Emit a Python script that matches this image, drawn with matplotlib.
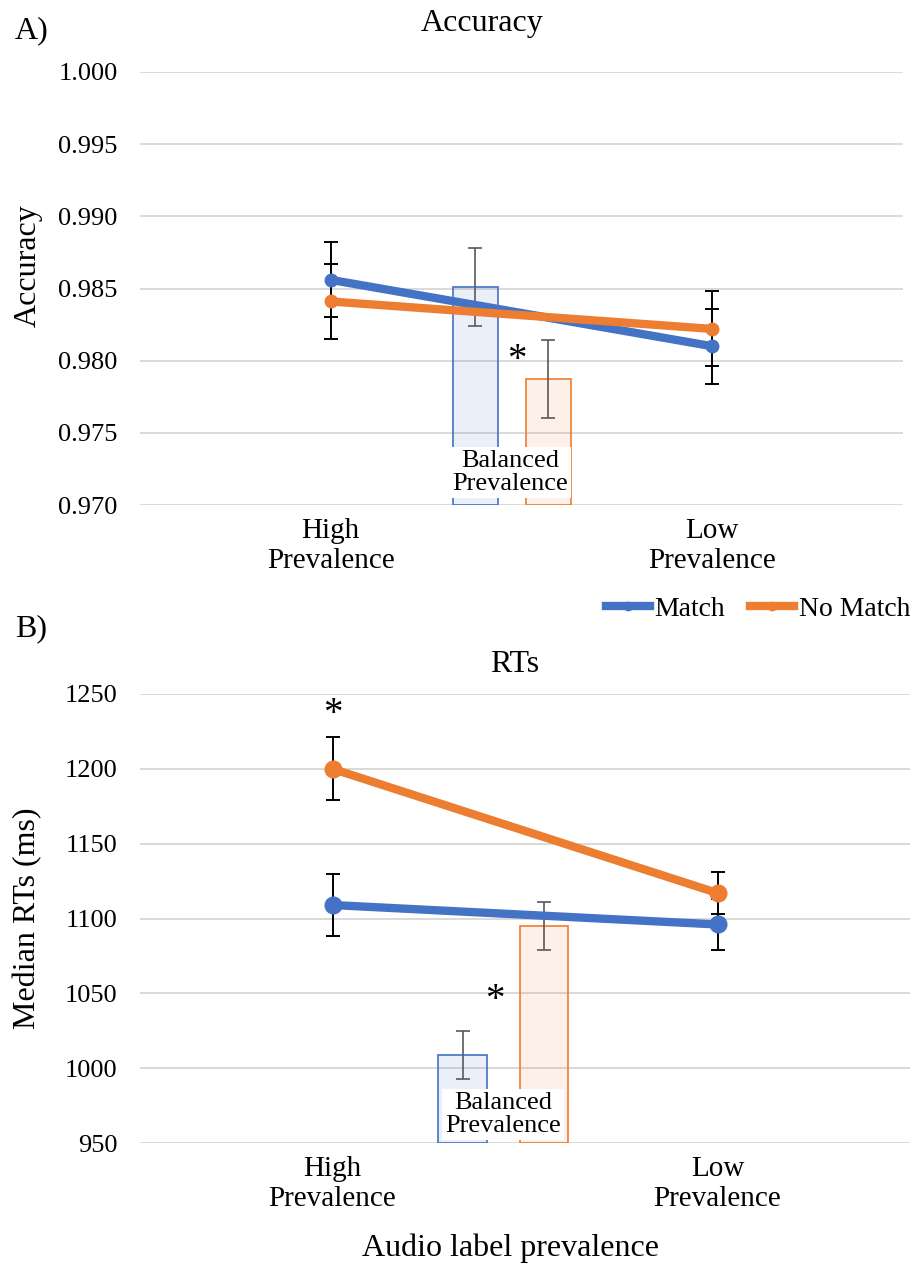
import matplotlib.pyplot as plt
import matplotlib.colors as mcolors
from matplotlib.lines import Line2D

plt.rcParams['font.family'] = 'Liberation Serif'

# data
conditions = ['High\nPrevalence', 'Low\nPrevalence']
series = ['Match', 'No Match']

acc_match = [0.9856, 0.9810]
acc_nomatch = [0.9841, 0.9822]
acc_match_err = [0.0026, 0.0026]
acc_nomatch_err = [0.0026, 0.0026]
acc_balanced = [0.9851, 0.9787]        # Match, No Match
acc_balanced_err = [0.0027, 0.0027]

rt_match = [1109, 1096]
rt_nomatch = [1200, 1117]
rt_match_err = [21, 17]
rt_nomatch_err = [21, 14]
rt_balanced = [1009, 1095]              # Match, No Match
rt_balanced_err = [16, 16]

blue = '#4472C4'
orange = '#ED7D31'
grid_col = '#D9D9D9'

W, H = 915, 1268
fig = plt.figure(figsize=(W / 100, H / 100), dpi=100)

ax1 = fig.add_axes([140 / W, 1 - 505 / H, 763 / W, 433 / H])
ax2 = fig.add_axes([140 / W, 1 - 1143 / H, 770 / W, 449 / H])


def draw_panel(ax, match, nomatch, match_err, nomatch_err, bal, bal_err,
               ymin, ymax, step, bar_x, bar_w, ms):
    x = [0, 1]
    # balanced prevalence bars (inset)
    for i, c in enumerate([blue, orange]):
        ax.bar(bar_x[i], bal[i] - ymin, bottom=ymin, width=bar_w,
               facecolor=mcolors.to_rgba(c, 0.11), edgecolor=c,
               linewidth=1.2, zorder=1)
    ax.errorbar(bar_x, bal, yerr=bal_err, fmt='none', ecolor='#595959',
                elinewidth=1.2, capsize=5, capthick=1.2, zorder=2)
    # error bars behind the lines
    ax.errorbar(x, match, yerr=match_err, fmt='none', ecolor='black',
                elinewidth=1.4, capsize=5, capthick=1.4, zorder=2)
    ax.errorbar(x, nomatch, yerr=nomatch_err, fmt='none', ecolor='black',
                elinewidth=1.4, capsize=5, capthick=1.4, zorder=2)
    ax.plot(x, match, color=blue, lw=6, marker='o', ms=ms,
            solid_capstyle='round', zorder=3)
    ax.plot(x, nomatch, color=orange, lw=6, marker='o', ms=ms,
            solid_capstyle='round', zorder=3)

    ax.set_xlim(-0.5, 1.5)
    ax.set_ylim(ymin, ymax)
    n = int(round((ymax - ymin) / step))
    ax.set_yticks([ymin + k * step for k in range(n + 1)])
    ax.set_xticks(x)
    ax.set_xticklabels(conditions, fontsize=21, linespacing=1.25)
    ax.yaxis.grid(True, color=grid_col, linewidth=1.4)
    ax.set_axisbelow(True)
    for s in ax.spines.values():
        s.set_visible(False)
    ax.tick_params(axis='both', length=0)
    ax.tick_params(axis='y', labelsize=19, pad=16)
    ax.tick_params(axis='x', pad=9)


# A) accuracy
draw_panel(ax1, acc_match, acc_nomatch, acc_match_err, acc_nomatch_err,
           acc_balanced, acc_balanced_err, 0.970, 1.000, 0.005,
           [0.379, 0.570], 0.117, 9)
ax1.yaxis.set_major_formatter(plt.FormatStrFormatter('%.3f'))
ax1.text(0.47, 0.97225, 'Balanced\nPrevalence', ha='center', va='center',
         fontsize=19, linespacing=1.08, zorder=5,
         bbox=dict(facecolor='white', edgecolor='none', pad=2))
ax1.text(0.487, 0.9800, '*', ha='center', va='center', fontsize=28, zorder=5)
ax1.set_ylabel('Accuracy', fontsize=23, va='center')
ax1.yaxis.set_label_coords((28 - 140) / 763, 0.552)

# B) RTs
draw_panel(ax2, rt_match, rt_nomatch, rt_match_err, rt_nomatch_err,
           rt_balanced, rt_balanced_err, 950, 1250, 50,
           [0.338, 0.549], 0.126, 12)
ax2.text(0.443, 969, 'Balanced\nPrevalence', ha='center', va='center',
         fontsize=19, linespacing=1.08, zorder=5,
         bbox=dict(facecolor='white', edgecolor='none', pad=2))
ax2.text(0.0, 1236, '*', ha='center', va='center', fontsize=28, zorder=5)
ax2.text(0.422, 1045, '*', ha='center', va='center', fontsize=28, zorder=5)
ax2.set_ylabel('Median RTs (ms)', fontsize=23, va='center')
ax2.yaxis.set_label_coords((28 - 140) / 770, 0.5)
ax2.set_xlabel('Audio label prevalence', fontsize=23, va='center')
ax2.xaxis.set_label_coords((511 - 140) / 770, -(1248 - 1143) / 449)

# titles and panel letters
fig.text(482 / W, 1 - 23 / H, 'Accuracy', ha='center', va='center', fontsize=23)
fig.text(515 / W, 1 - 665 / H, 'RTs', ha='center', va='center', fontsize=23)
fig.text(15 / W, 1 - 31 / H, 'A)', ha='left', va='center', fontsize=23)
fig.text(15 / W, 1 - 629 / H, 'B)', ha='left', va='center', fontsize=23)

handles = [Line2D([], [], color=blue, lw=6, marker='o', ms=6),
           Line2D([], [], color=orange, lw=6, marker='o', ms=6)]
fig.legend(handles, series, loc='center right',
           bbox_to_anchor=(910 / W, 1 - 609 / H), frameon=False, ncol=2,
           fontsize=20, handlelength=1.6, handletextpad=0.15,
           columnspacing=0.9, borderaxespad=0, borderpad=0)

fig.savefig('out.png', dpi=100)
